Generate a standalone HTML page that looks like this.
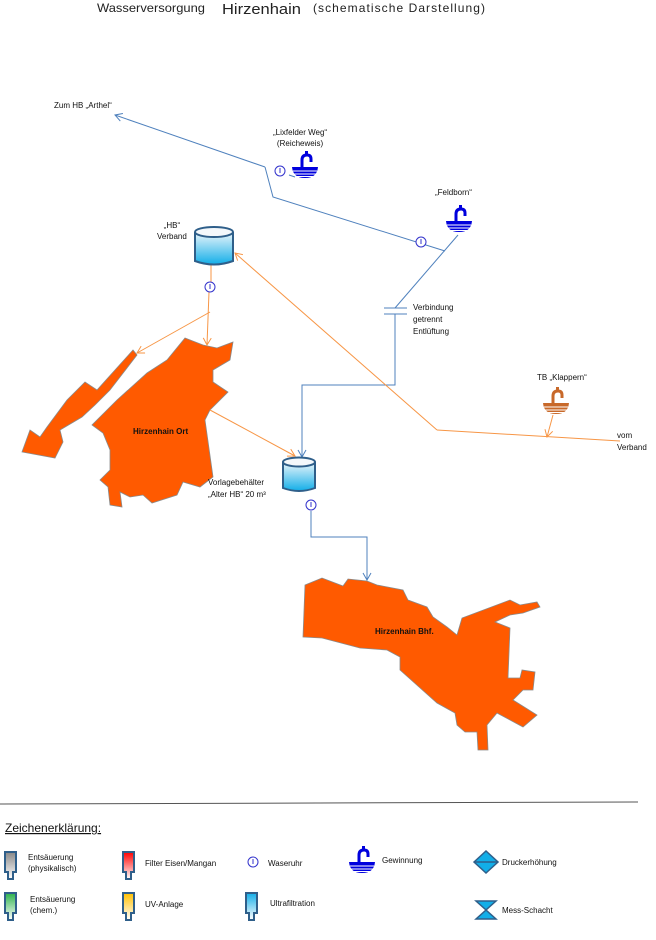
<!DOCTYPE html>
<html><head><meta charset="utf-8"><style>
body{margin:0;width:656px;height:940px;background:#fff;position:relative;overflow:hidden;font-family:"Liberation Sans",sans-serif;}
.t{position:absolute;font-size:8px;color:#111;line-height:11px;white-space:nowrap}
</style></head><body>
<svg width="656" height="940" style="position:absolute;left:0;top:0" font-family="Liberation Sans, sans-serif">
<defs>
<linearGradient id="tank" x1="0" y1="0" x2="0" y2="1"><stop offset="0" stop-color="#eef6fb"/><stop offset="1" stop-color="#12aee8"/></linearGradient>
<linearGradient id="gG" x1="0" y1="0" x2="0" y2="1"><stop offset="0" stop-color="#888"/><stop offset="1" stop-color="#fff"/></linearGradient>
<linearGradient id="gR" x1="0" y1="0" x2="0" y2="1"><stop offset="0" stop-color="#f00"/><stop offset="1" stop-color="#fff"/></linearGradient>
<linearGradient id="gGr" x1="0" y1="0" x2="0" y2="1"><stop offset="0" stop-color="#2bb24c"/><stop offset="1" stop-color="#fff"/></linearGradient>
<linearGradient id="gY" x1="0" y1="0" x2="0" y2="1"><stop offset="0" stop-color="#ffc000"/><stop offset="1" stop-color="#fff"/></linearGradient>
<linearGradient id="gB" x1="0" y1="0" x2="0" y2="1"><stop offset="0" stop-color="#12aee8"/><stop offset="1" stop-color="#fff"/></linearGradient>
<marker id="ab" markerWidth="10" markerHeight="10" refX="8" refY="5" orient="auto" markerUnits="userSpaceOnUse"><path d="M1 1 L8 5 L1 9" fill="none" stroke="#4f81bd" stroke-width="1"/></marker>
<marker id="ao" markerWidth="10" markerHeight="10" refX="8" refY="5" orient="auto" markerUnits="userSpaceOnUse"><path d="M1 1 L8 5 L1 9" fill="none" stroke="#f79646" stroke-width="1"/></marker>
</defs>
<text x="97" y="12" font-size="12" fill="#222" textLength="108" lengthAdjust="spacingAndGlyphs">Wasserversorgung</text>
<text x="222" y="14" font-size="15" fill="#222" textLength="79" lengthAdjust="spacingAndGlyphs">Hirzenhain</text>
<text x="313" y="12" font-size="12" fill="#222" textLength="172">(schematische  Darstellung)</text>

<g fill="#ff5a00" stroke="#8a8a8a" stroke-width="0.8">
<polygon points="185,338 203,345 217,348 233,342 230,360 213,370 213,382 228,392 210,410 205,420 213,477 200,487 183,482 177,495 152,503 143,495 130,497 120,492 122,507 110,505 108,487 100,480 110,470 110,450 103,433 92,425 117,400 147,373 167,360"/>
<polygon points="133,350 137,355 110,390 95,405 82,417 60,430 63,442 55,458 22,452 30,430 40,437 47,427 67,400 85,382 97,390"/>
<polygon points="305,585 322,578 343,586 348,579 367,581 377,585 403,590 408,600 427,607 433,617 447,627 457,635 462,618 510,600 520,605 537,602 540,607 523,613 510,615 495,622 510,628 508,678 520,678 522,670 535,672 533,690 523,690 513,700 537,715 523,727 497,713 487,725 488,750 478,750 477,732 465,732 457,725 455,713 437,703 400,670 400,657 387,650 360,648 322,638 303,637"/>
</g>
<text x="133" y="434" font-size="8" font-weight="bold" fill="#111">Hirzenhain Ort</text>
<text x="375" y="634" font-size="8" font-weight="bold" fill="#111">Hirzenhain Bhf.</text>

<g stroke="#4f81bd" stroke-width="1" fill="none">
<polyline points="265,167 115,115" marker-end="url(#ab)"/>
<polyline points="265,167 273,197 445,251"/>
<line x1="289" y1="175" x2="295" y2="177"/>
<line x1="458" y1="235" x2="395" y2="308"/>
<line x1="384" y1="308" x2="407" y2="308"/><line x1="384" y1="314" x2="407" y2="314"/>
<polyline points="395,314 395,385 302,385 302,457" marker-end="url(#ab)"/>
<polyline points="311,511 311,537 367,537 367,580" marker-end="url(#ab)"/>
</g>
<g stroke="#f79646" stroke-width="1" fill="none">
<polyline points="211,265 211,282"/>
<polyline points="209,292 207,345" marker-end="url(#ao)"/>
<polyline points="210,312 137,353" marker-end="url(#ao)"/>
<polyline points="437,430 235,253" marker-end="url(#ao)"/>
<polyline points="437,430 620,441"/>
<polyline points="553,415 547,437" marker-end="url(#ao)"/>
<polyline points="210,410 295,456" marker-end="url(#ao)"/>
</g>

<g stroke="#2f5f8a" stroke-width="2">
<path d="M195 232 V261 Q214 268 233 261 V232" fill="url(#tank)"/>
<ellipse cx="214" cy="232" rx="19" ry="5" fill="#f4f8fb"/>
<path d="M283 462 V488 Q299 494 315 488 V462" fill="url(#tank)"/>
<ellipse cx="299" cy="462" rx="16" ry="4.5" fill="#f4f8fb"/>
</g>

<g stroke="#3333cc" stroke-width="1" fill="#fff">
<circle cx="280" cy="171" r="5"/><circle cx="421" cy="242" r="5"/><circle cx="210" cy="287" r="5"/><circle cx="311" cy="505" r="5"/><circle cx="253" cy="862" r="5"/>
</g>
<g stroke="#3333cc" stroke-width="1">
<line x1="280" y1="168" x2="280" y2="173"/><line x1="421" y1="239" x2="421" y2="244"/><line x1="210" y1="284" x2="210" y2="289"/><line x1="311" y1="502" x2="311" y2="507"/><line x1="253" y1="859" x2="253" y2="864"/>
</g>

<g transform="translate(292,150)">
<path d="M10 17 V10 Q10 5 15 5 Q19 5 19 9 V12" fill="none" stroke="#0000dd" stroke-width="3"/>
<rect x="13" y="1" width="3" height="4" fill="#0000dd"/>
<path d="M0 17 H26 Q25 28 13 28 Q1 28 0 17Z" fill="#0000dd"/>
<g stroke="#fff" stroke-width="1"><line x1="1" y1="21" x2="25" y2="21"/><line x1="2" y1="24" x2="24" y2="24"/><line x1="5" y1="26.5" x2="21" y2="26.5"/></g>
</g>
<g transform="translate(446,204)">
<path d="M10 17 V10 Q10 5 15 5 Q19 5 19 9 V12" fill="none" stroke="#0000dd" stroke-width="3"/>
<rect x="13" y="1" width="3" height="4" fill="#0000dd"/>
<path d="M0 17 H26 Q25 28 13 28 Q1 28 0 17Z" fill="#0000dd"/>
<g stroke="#fff" stroke-width="1"><line x1="1" y1="21" x2="25" y2="21"/><line x1="2" y1="24" x2="24" y2="24"/><line x1="5" y1="26.5" x2="21" y2="26.5"/></g>
</g>
<g transform="translate(543,386)">
<path d="M10 17 V10 Q10 5 15 5 Q19 5 19 9 V12" fill="none" stroke="#c8692a" stroke-width="3"/>
<rect x="13" y="1" width="3" height="4" fill="#c8692a"/>
<path d="M0 17 H26 Q25 28 13 28 Q1 28 0 17Z" fill="#c8692a"/>
<g stroke="#fff" stroke-width="1"><line x1="1" y1="21" x2="25" y2="21"/><line x1="2" y1="24" x2="24" y2="24"/><line x1="5" y1="26.5" x2="21" y2="26.5"/></g>
</g>
<g transform="translate(349,845)">
<path d="M10 17 V10 Q10 5 15 5 Q19 5 19 9 V12" fill="none" stroke="#0000dd" stroke-width="3"/>
<rect x="13" y="1" width="3" height="4" fill="#0000dd"/>
<path d="M0 17 H26 Q25 28 13 28 Q1 28 0 17Z" fill="#0000dd"/>
<g stroke="#fff" stroke-width="1"><line x1="1" y1="21" x2="25" y2="21"/><line x1="2" y1="24" x2="24" y2="24"/><line x1="5" y1="26.5" x2="21" y2="26.5"/></g>
</g>

<line x1="0" y1="804" x2="638" y2="802" stroke="#555" stroke-width="1"/>
<text x="5" y="832" font-size="12" fill="#111" text-decoration="underline">Zeichenerklärung:</text>
<g stroke="#2f5f8a" stroke-width="2">
<path d="M5 852 H16 V872 H13 V879 H8 V872 H5Z" fill="url(#gG)"/>
<path d="M5 893 H16 V913 H13 V920 H8 V913 H5Z" fill="url(#gGr)"/>
<path d="M123 852 H134 V872 H131 V879 H126 V872 H123Z" fill="url(#gR)"/>
<path d="M123 893 H134 V913 H131 V920 H126 V913 H123Z" fill="url(#gY)"/>
<path d="M246 893 H257 V913 H254 V920 H249 V913 H246Z" fill="url(#gB)"/>
</g>
<path d="M474 862 L486 851 L498 862 L486 873Z" fill="#12aee8" stroke="#2f5f8a" stroke-width="1.5"/>
<line x1="474" y1="862" x2="498" y2="862" stroke="#2f5f8a" stroke-width="1.5"/>
<path d="M476 901 H496 L486 910 L496 919 H476 L486 910Z" fill="#12aee8" stroke="#2f5f8a" stroke-width="1.5"/>
</svg>

<div class="t" style="left:54px;top:100px">Zum HB „Arthel“</div>
<div class="t" style="left:273px;top:127px;text-align:center">„Lixfelder Weg“<br>(Reicheweis)</div>
<div class="t" style="left:435px;top:187px">„Feldborn“</div>
<div class="t" style="left:157px;top:220px;text-align:center">„HB“<br>Verband</div>
<div class="t" style="left:413px;top:302px;line-height:12px">Verbindung<br>getrennt<br>Entlüftung</div>
<div class="t" style="left:537px;top:372px">TB „Klappern“</div>
<div class="t" style="left:617px;top:430px;line-height:12px">vom<br>Verband</div>
<div class="t" style="left:208px;top:477px;line-height:12px">Vorlagebehälter<br>„Alter HB“ 20 m³</div>
<div class="t" style="left:28px;top:852px">Entsäuerung<br>(physikalisch)</div>
<div class="t" style="left:30px;top:894px">Entsäuerung<br>(chem.)</div>
<div class="t" style="left:145px;top:858px">Filter Eisen/Mangan</div>
<div class="t" style="left:145px;top:899px">UV-Anlage</div>
<div class="t" style="left:268px;top:858px">Waseruhr</div>
<div class="t" style="left:270px;top:898px">Ultrafiltration</div>
<div class="t" style="left:382px;top:855px">Gewinnung</div>
<div class="t" style="left:502px;top:857px">Druckerhöhung</div>
<div class="t" style="left:502px;top:905px">Mess-Schacht</div>
</body></html>
